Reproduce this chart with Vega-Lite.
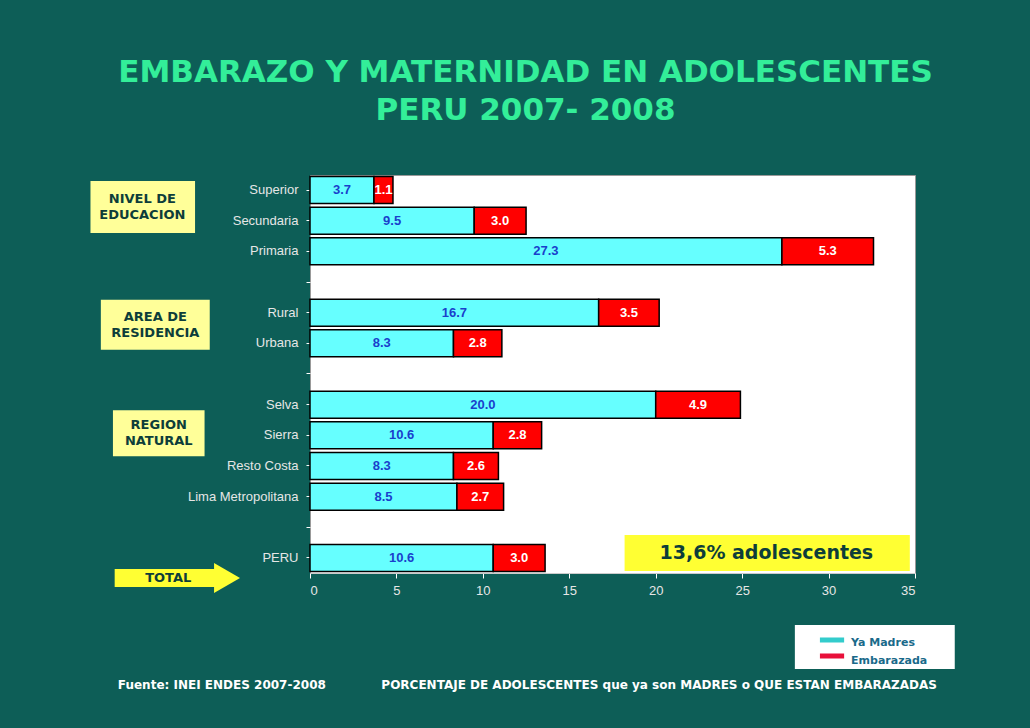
{
"$schema":"https://vega.github.io/schema/vega-lite/v6.json",
"width":605,"height":398,
"padding":{"left":310,"top":175,"right":115,"bottom":155},
"autosize":{"type":"none"},
"background":"#0d5e57",
"view":{"fill":"white","stroke":"#999999"},
"title":{"text":["EMBARAZO Y MATERNIDAD EN ADOLESCENTES","PERU 2007- 2008"],"color":"#33ee99","font":"DejaVu Sans","fontSize":31,"fontWeight":"bold","anchor":"middle","dx":-87,"offset":48,"lineHeight":38},
"datasets":{
"bars":[
{"cat":"Superior","madres":3.7,"emb":1.1},
{"cat":"Secundaria","madres":9.5,"emb":3.0},
{"cat":"Primaria","madres":27.3,"emb":5.3},
{"cat":"Rural","madres":16.7,"emb":3.5},
{"cat":"Urbana","madres":8.3,"emb":2.8},
{"cat":"Selva","madres":20.0,"emb":4.9},
{"cat":"Sierra","madres":10.6,"emb":2.8},
{"cat":"Resto Costa","madres":8.3,"emb":2.6},
{"cat":"Lima Metropolitana","madres":8.5,"emb":2.7},
{"cat":"PERU","madres":10.6,"emb":3.0}
]},
"encoding":{
"y":{"field":"cat","type":"nominal","sort":null,
"scale":{"domain":["Superior","Secundaria","Primaria"," ","Rural","Urbana","  ","Selva","Sierra","Resto Costa","Lima Metropolitana","   ","PERU"],"paddingInner":0.12,"paddingOuter":0.05},
"axis":{"title":null,"labelColor":"#e6e6e6","labelFont":"Liberation Sans","labelFontSize":13,"labelPadding":8,"tickColor":"#ffffff","domain":false,"tickSize":4}}
},
"layer":[
{"data":{"name":"bars"},"mark":{"type":"bar","fill":"#66ffff","stroke":"black","strokeWidth":1.5},
"encoding":{"x":{"field":"madres","type":"quantitative","scale":{"domain":[0,35]},
"axis":{"title":null,"grid":false,"values":[0,5,10,15,20,25,30,35],"labelColor":"#e6e6e6","labelFont":"Liberation Sans","labelFontSize":13,"tickColor":"#ffffff","domainColor":"#cccccc","labelPadding":6}},"x2":{"datum":0}}},
{"data":{"name":"bars"},"transform":[{"calculate":"datum.madres+datum.emb","as":"total"}],"mark":{"type":"bar","fill":"#ff0000","stroke":"black","strokeWidth":1.5},
"encoding":{"x":{"field":"madres","type":"quantitative"},"x2":{"field":"total"}}},
{"data":{"name":"bars"},"transform":[{"calculate":"datum.madres/2","as":"m"}],"mark":{"type":"text","color":"#1a3fcc","font":"Liberation Sans","fontSize":13,"fontWeight":"bold"},
"encoding":{"x":{"field":"m","type":"quantitative"},"text":{"field":"madres","format":".1f"}}},
{"data":{"name":"bars"},"transform":[{"calculate":"datum.madres+datum.emb/2","as":"m"}],"mark":{"type":"text","color":"#ffffff","font":"Liberation Sans","fontSize":13,"fontWeight":"bold"},
"encoding":{"x":{"field":"m","type":"quantitative"},"text":{"field":"emb","format":".1f"}}},
{"data":{"values":[{"cat":"Superior","a":-12.7,"b":-6.65}]},"mark":{"type":"bar","fill":"#ffff99","height":52,"yOffset":17,"clip":false},"encoding":{"x":{"field":"a","type":"quantitative"},"x2":{"field":"b"}}},
{"data":{"values":[{"cat":"Rural","a":-12.1,"b":-5.8}]},"mark":{"type":"bar","fill":"#ffff99","height":50,"yOffset":12,"clip":false},"encoding":{"x":{"field":"a","type":"quantitative"},"x2":{"field":"b"}}},
{"data":{"values":[{"cat":"Sierra","a":-11.4,"b":-6.1}]},"mark":{"type":"bar","fill":"#ffff99","height":46,"yOffset":-2,"clip":false},"encoding":{"x":{"field":"a","type":"quantitative"},"x2":{"field":"b"}}},
{"data":{"values":[{"cat":"PERU","a":-11.3,"b":-5.3}]},"mark":{"type":"bar","fill":"#ffff33","height":18,"yOffset":20,"clip":false},"encoding":{"x":{"field":"a","type":"quantitative"},"x2":{"field":"b"}}},
{"data":{"values":[{"cat":"PERU","a":-4.8}]},"mark":{"type":"point","shape":"triangle-right","filled":true,"fill":"#ffff33","opacity":1,"size":900,"yOffset":20,"clip":false},"encoding":{"x":{"field":"a","type":"quantitative"}}},
{"data":{"values":[{"cat":"Superior","a":-9.7,"t":["NIVEL DE","EDUCACION"]}]},"mark":{"type":"text","font":"DejaVu Sans","fontSize":13,"fontWeight":"bold","color":"#0d3d3a","lineHeight":16,"clip":false,"yOffset":9},"encoding":{"x":{"field":"a","type":"quantitative"},"text":{"field":"t"}}},
{"data":{"values":[{"cat":"Rural","a":-8.95,"t":["AREA DE","RESIDENCIA"]}]},"mark":{"type":"text","font":"DejaVu Sans","fontSize":13,"fontWeight":"bold","color":"#0d3d3a","lineHeight":16,"clip":false,"yOffset":4},"encoding":{"x":{"field":"a","type":"quantitative"},"text":{"field":"t"}}},
{"data":{"values":[{"cat":"Sierra","a":-8.75,"t":["REGION","NATURAL"]}]},"mark":{"type":"text","font":"DejaVu Sans","fontSize":13,"fontWeight":"bold","color":"#0d3d3a","lineHeight":16,"clip":false,"yOffset":-10},"encoding":{"x":{"field":"a","type":"quantitative"},"text":{"field":"t"}}},
{"data":{"values":[{"cat":"PERU","a":-8.2,"t":"TOTAL"}]},"mark":{"type":"text","font":"DejaVu Sans","fontSize":13,"fontWeight":"bold","color":"#0d3d3a","clip":false,"yOffset":20},"encoding":{"x":{"field":"a","type":"quantitative"},"text":{"field":"t"}}},
{"data":{"values":[{"cat":"PERU","a":18.2,"b":34.7}]},"mark":{"type":"bar","fill":"#ffff33","height":36,"yOffset":-5,"clip":false},"encoding":{"x":{"field":"a","type":"quantitative"},"x2":{"field":"b"}}},
{"data":{"values":[{"cat":"PERU","a":26.4,"t":"13,6%  adolescentes"}]},"mark":{"type":"text","font":"DejaVu Sans","fontSize":19,"fontWeight":"bold","color":"#0d3d3a","yOffset":-5,"clip":false},"encoding":{"x":{"field":"a","type":"quantitative"},"text":{"field":"t"}}},
{"data":{"values":[{"cat":"PERU","a":28.05,"b":37.3}]},"mark":{"type":"bar","fill":"#ffffff","height":44,"yOffset":89,"clip":false},"encoding":{"x":{"field":"a","type":"quantitative"},"x2":{"field":"b"}}},
{"data":{"values":[{"cat":"PERU","a":29.5,"b":30.9}]},"mark":{"type":"bar","fill":"#33cccc","height":5,"yOffset":82,"clip":false},"encoding":{"x":{"field":"a","type":"quantitative"},"x2":{"field":"b"}}},
{"data":{"values":[{"cat":"PERU","a":29.5,"b":30.9}]},"mark":{"type":"bar","fill":"#e8103a","height":5,"yOffset":98,"clip":false},"encoding":{"x":{"field":"a","type":"quantitative"},"x2":{"field":"b"}}},
{"data":{"values":[{"cat":"PERU","a":31.3,"t":"Ya Madres"}]},"mark":{"type":"text","align":"left","font":"DejaVu Sans","fontSize":11,"fontWeight":"bold","color":"#1a6a8a","yOffset":85,"clip":false},"encoding":{"x":{"field":"a","type":"quantitative"},"text":{"field":"t"}}},
{"data":{"values":[{"cat":"PERU","a":31.3,"t":"Embarazada"}]},"mark":{"type":"text","align":"left","font":"DejaVu Sans","fontSize":11,"fontWeight":"bold","color":"#1a6a8a","yOffset":103,"clip":false},"encoding":{"x":{"field":"a","type":"quantitative"},"text":{"field":"t"}}},
{"data":{"values":[{"cat":"PERU","a":-5.1,"t":"Fuente: INEI ENDES 2007-2008"},{"cat":"PERU","a":20.2,"t":"PORCENTAJE DE ADOLESCENTES que ya son  MADRES  o QUE ESTAN EMBARAZADAS"}]},"mark":{"type":"text","font":"DejaVu Sans","fontSize":12,"fontWeight":"bold","color":"#ffffff","yOffset":127,"clip":false},"encoding":{"x":{"field":"a","type":"quantitative"},"text":{"field":"t"}}}
]
}
